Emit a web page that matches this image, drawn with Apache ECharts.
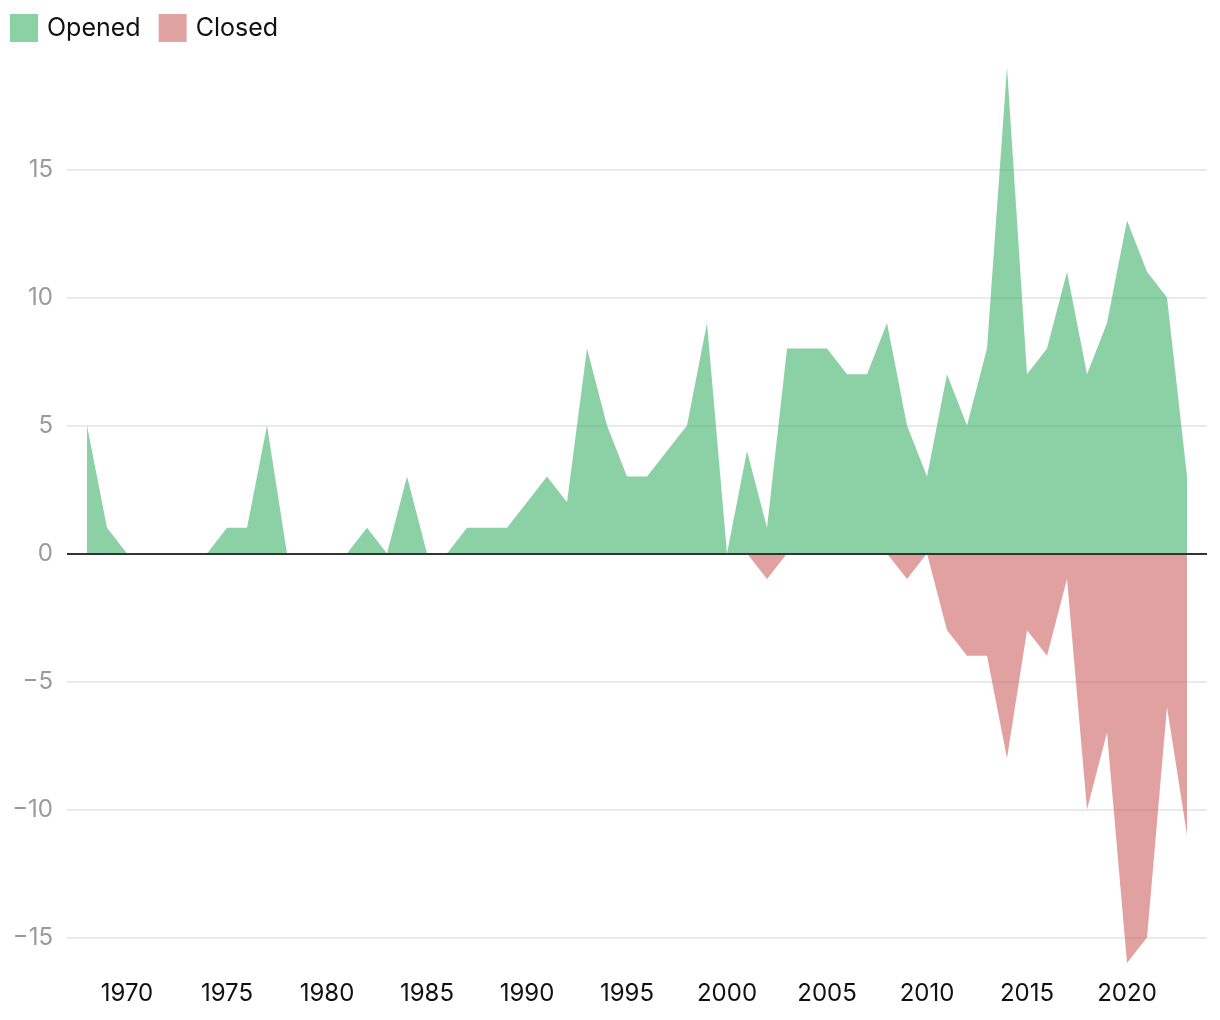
<!DOCTYPE html>
<html>
<head>
<meta charset="utf-8">
<script src="https://cdn.jsdelivr.net/npm/echarts@6/dist/echarts.min.js"></script>
<style>
html,body{margin:0;padding:0;background:#fff;}
#chart{width:1220px;height:1020px;}
</style>
</head>
<body>
<div id="chart"></div>
<script>
const years = [1968,1969,1970,1971,1972,1973,1974,1975,1976,1977,1978,1979,1980,1981,1982,1983,1984,1985,1986,1987,1988,1989,1990,1991,1992,1993,1994,1995,1996,1997,1998,1999,2000,2001,2002,2003,2004,2005,2006,2007,2008,2009,2010,2011,2012,2013,2014,2015,2016,2017,2018,2019,2020,2021,2022,2023];
const opened = [5,1,0,0,0,0,0,1,1,5,0,0,0,0,1,0,3,0,0,1,1,1,2,3,2,8,5,3,3,4,5,9,0,4,1,8,8,8,7,7,9,5,3,7,5,8,19,7,8,11,7,9,13,11,10,3];
const closed = [0,0,0,0,0,0,0,0,0,0,0,0,0,0,0,0,0,0,0,0,0,0,0,0,0,0,0,0,0,0,0,0,0,0,-1,0,0,0,0,0,0,-1,0,-3,-4,-4,-8,-3,-4,-1,-10,-7,-16,-15,-6,-11];
const seriesNames = ['Opened','Closed'];
const xTickYears = [1970,1975,1980,1985,1990,1995,2000,2005,2010,2015,2020];
const yTickValues = [-15,-10,-5,0,5,10,15];

const FONT = 'Inter, "Noto Sans", sans-serif';
const chart = echarts.init(document.getElementById('chart'), null, {renderer:'canvas'});
const openedPts = years.map((y,i)=>[y, opened[i]]);
const closedPts = years.map((y,i)=>[y, closed[i]]);

chart.setOption({
  animation:false,
  textStyle:{fontFamily:FONT},
  legend:{
    left:10, top:14, padding:0, itemWidth:28, itemHeight:28, itemGap:18,
    icon:'rect',
    textStyle:{fontSize:25, color:'#111', fontFamily:FONT, padding:[5,0,0,4]},
    data:[
      {name:seriesNames[0], itemStyle:{color:'#8cd1a4'}},
      {name:seriesNames[1], itemStyle:{color:'#e1a2a2'}}
    ]
  },
  grid:{left:67, right:13, top:67, bottom:57, containLabel:false},
  xAxis:{
    type:'value', min:1967, max:2024, interval:1,
    axisLine:{show:false}, axisTick:{show:false}, splitLine:{show:false},
    axisLabel:{
      margin:19, fontSize:24, color:'#111', fontFamily:FONT,
      showMinLabel:false, showMaxLabel:false,
      formatter:v => xTickYears.indexOf(v) >= 0 ? String(v) : ''
    }
  },
  yAxis:{
    type:'value', min:-16, max:19, splitNumber:7,
    axisLine:{show:false}, axisTick:{show:false},
    splitLine:{show:true, showMinLine:false, showMaxLine:false, lineStyle:{color:'#e3e3e3', width:1.5}},
    axisLabel:{
      margin:14, fontSize:24, color:'#9a9a9a', fontFamily:FONT,
      padding:[4,0,0,0],
      showMinLabel:false, showMaxLabel:false,
      formatter:v => yTickValues.indexOf(v) >= 0 ? String(v).replace('-','\u2212') : ''
    }
  },
  series:[
    {
      name:seriesNames[0], type:'line', data:openedPts, showSymbol:false, symbol:'none',
      lineStyle:{width:0}, itemStyle:{color:'#8cd1a4'},
      areaStyle:{color:'rgb(63,178,105)', opacity:0.6, origin:0},
      z:2
    },
    {
      name:seriesNames[1], type:'line', data:closedPts, showSymbol:false, symbol:'none',
      lineStyle:{width:0}, itemStyle:{color:'#e1a2a2'},
      areaStyle:{color:'rgb(205,98,98)', opacity:0.6, origin:0},
      z:2,
      markLine:{
        silent:true, symbol:['none','none'], label:{show:false},
        lineStyle:{color:'#333', width:2, type:'solid'},
        data:[{yAxis:0}], z:10
      }
    }
  ]
});
</script>
</body>
</html>
